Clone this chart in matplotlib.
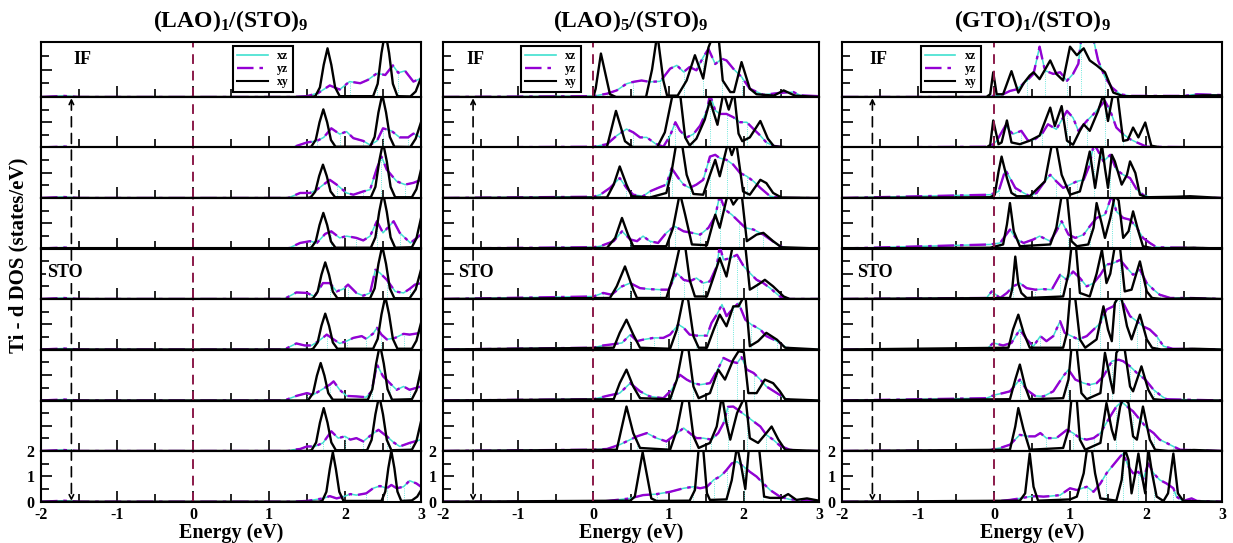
import numpy as np
import matplotlib
matplotlib.use("Agg")
import matplotlib.pyplot as plt
from matplotlib.lines import Line2D
from matplotlib.patches import ConnectionPatch
from matplotlib.ticker import MultipleLocator, NullFormatter

plt.rcParams['font.family'] = ['Liberation Serif', 'DejaVu Serif']
plt.rcParams['font.weight'] = 'bold'
plt.rcParams['mathtext.fontset'] = 'custom'
plt.rcParams['mathtext.rm'] = 'Liberation Serif:bold'
plt.rcParams['mathtext.it'] = 'Liberation Serif:bold'
plt.rcParams['mathtext.bf'] = 'Liberation Serif:bold'

# ---- data: (energy eV, DOS) vertices, rows top (IF) -> bottom
# xz and yz lie on top of each other in the picture, so one t2g list per row
titles = [r'(LAO)$_{1}$/(STO)$_{9}$', r'(LAO)$_{5}$/(STO)$_{9}$', r'(GTO)$_{1}$/(STO)$_{9}$']

lao1_xy = [
    [(-2, 0), (1.55, 0), (1.61, 0.03), (1.67, 0.35), (1.72, 1.17), (1.77, 1.77), (1.82, 1.17), (1.87, 0.35), (1.93, 0.03), (2.37, 0.03), (2.43, 0.48), (2.48, 1.6), (2.53, 2.4), (2.58, 1.6), (2.63, 0.48), (2.69, 0.03), (2.86, 0.02), (2.93, 0.2), (3.0, 0.7)],
    [(-2, 0), (1.5, 0), (1.555, 0.03), (1.615, 0.3), (1.665, 1.0), (1.715, 1.51), (1.765, 1.0), (1.815, 0.3), (1.875, 0.03), (2.33, 0.03), (2.39, 0.42), (2.44, 1.39), (2.49, 2.1), (2.54, 1.39), (2.59, 0.42), (2.65, 0.03), (2.86, 0.02), (2.93, 0.35), (3.0, 1.0)],
    [(-2, 0), (1.5, 0), (1.55, 0.03), (1.61, 0.26), (1.66, 0.87), (1.71, 1.32), (1.76, 0.87), (1.81, 0.26), (1.87, 0.03), (2.34, 0.03), (2.4, 0.44), (2.45, 1.45), (2.5, 2.2), (2.55, 1.45), (2.6, 0.44), (2.66, 0.03), (2.88, 0.03), (2.94, 0.35), (3.0, 1.12)],
    [(-2, 0), (1.5, 0), (1.555, 0.03), (1.615, 0.28), (1.665, 0.93), (1.715, 1.41), (1.765, 0.93), (1.815, 0.28), (1.875, 0.03), (2.34, 0.03), (2.4, 0.44), (2.45, 1.45), (2.5, 2.2), (2.55, 1.45), (2.6, 0.44), (2.66, 0.03), (2.88, 0.05), (2.94, 0.4), (3.0, 1.2)],
    [(-2, 0), (1.55, 0), (1.58, 0.03), (1.64, 0.29), (1.69, 0.96), (1.74, 1.45), (1.79, 0.96), (1.84, 0.29), (1.9, 0.03), (2.33, 0.03), (2.39, 0.42), (2.44, 1.39), (2.49, 2.1), (2.54, 1.39), (2.59, 0.42), (2.65, 0.03), (2.85, 0.03), (2.93, 0.38), (3.0, 1.16)],
    [(-2, 0), (1.55, 0), (1.58, 0.03), (1.64, 0.28), (1.69, 0.94), (1.74, 1.42), (1.79, 0.94), (1.84, 0.28), (1.9, 0.03), (2.37, 0.03), (2.43, 0.42), (2.48, 1.39), (2.53, 2.1), (2.58, 1.39), (2.63, 0.42), (2.69, 0.03), (2.88, 0.03), (2.94, 0.35), (3.0, 1.05)],
    [(-2, 0), (1.5, 0), (1.52, 0.03), (1.58, 0.29), (1.63, 0.97), (1.68, 1.47), (1.73, 0.97), (1.78, 0.29), (1.84, 0.03), (2.3, 0.03), (2.36, 0.44), (2.41, 1.45), (2.46, 2.2), (2.51, 1.45), (2.56, 0.44), (2.62, 0.03), (2.88, 0.05), (2.94, 0.4), (3.0, 1.21)],
    [(-2, 0), (1.5, 0), (1.56, 0.03), (1.62, 0.34), (1.67, 1.12), (1.72, 1.7), (1.77, 1.12), (1.82, 0.34), (1.88, 0.03), (2.29, 0.03), (2.35, 0.44), (2.4, 1.45), (2.45, 2.2), (2.5, 1.45), (2.55, 0.44), (2.61, 0.03), (2.88, 0.05), (2.94, 0.39), (3.0, 1.17)],
    [(-2, 0), (1.65, 0), (1.7, 0.03), (1.755, 0.39), (1.8, 1.29), (1.84, 1.95), (1.88, 1.29), (1.925, 0.39), (1.98, 0.03), (2.48, 0.03), (2.53, 0.4), (2.57, 1.32), (2.61, 2.0), (2.65, 1.32), (2.69, 0.4), (2.74, 0.03), (2.88, 0.05), (2.95, 0.2), (3.0, 0.45)],
]
lao1_t2g = [
    [(-2, 0), (-1.7, 0.04), (-1.5, 0), (1.3, 0), (1.5, 0.03), (1.65, 0.15), (1.8, 0.42), (1.93, 0.27), (2.06, 0.56), (2.2, 0.5), (2.3, 0.62), (2.42, 0.86), (2.53, 0.8), (2.63, 1.15), (2.7, 0.88), (2.79, 0.95), (2.9, 0.56), (3.0, 0.68)],
    [(-2, 0), (-1.7, 0.04), (-1.5, 0), (1.3, 0), (1.5, 0.2), (1.63, 0.26), (1.72, 0.4), (1.82, 0.76), (1.93, 0.53), (2.02, 0.63), (2.11, 0.37), (2.24, 0.26), (2.33, 0.1), (2.42, 0.26), (2.5, 0.76), (2.61, 0.66), (2.72, 0.4), (2.83, 0.4), (2.9, 0.55), (3.0, 0.4)],
    [(-2, 0), (-1.7, 0.04), (-1.5, 0), (1.25, 0), (1.41, 0.2), (1.54, 0.2), (1.63, 0.33), (1.8, 0.72), (1.89, 0.53), (2.02, 0.2), (2.11, 0.13), (2.24, 0.26), (2.33, 0.33), (2.42, 1.18), (2.48, 1.64), (2.55, 1.12), (2.68, 0.66), (2.79, 0.53), (2.9, 0.6), (3.0, 0.72)],
    [(-2, 0), (-1.7, 0.04), (-1.5, 0), (1.25, 0), (1.41, 0.22), (1.54, 0.29), (1.63, 0.22), (1.74, 0.58), (1.82, 0.68), (1.93, 0.42), (2.02, 0.49), (2.15, 0.42), (2.24, 0.32), (2.33, 0.49), (2.42, 1.08), (2.5, 0.62), (2.64, 1.08), (2.72, 0.62), (2.86, 0.22), (3.0, 0.55)],
    [(-2, 0), (-1.7, 0.04), (-1.5, 0), (1.2, 0), (1.36, 0.26), (1.5, 0.24), (1.6, 0.1), (1.71, 0.63), (1.8, 0.63), (1.89, 0.3), (1.98, 0.4), (2.04, 0.57), (2.15, 0.24), (2.24, 0.13), (2.33, 0.24), (2.4, 1.16), (2.46, 1.03), (2.55, 0.76), (2.66, 0.3), (2.77, 0.24), (2.85, 0.4), (2.92, 0.57), (3.0, 0.63)],
    [(-2, 0), (-1.7, 0.04), (-1.5, 0), (1.2, 0), (1.36, 0.24), (1.47, 0.16), (1.56, 0.16), (1.65, 0.33), (1.76, 0.59), (1.85, 0.4), (1.93, 0.24), (2.02, 0.33), (2.11, 0.46), (2.22, 0.53), (2.28, 0.42), (2.37, 0.63), (2.42, 0.86), (2.48, 0.59), (2.55, 0.4), (2.66, 0.46), (2.77, 0.62), (2.85, 0.59), (3.0, 0.66)],
    [(-2, 0), (-1.7, 0.04), (-1.5, 0), (1.2, 0), (1.36, 0.18), (1.5, 0.29), (1.58, 0.22), (1.69, 0.42), (1.8, 0.62), (1.85, 0.75), (1.93, 0.42), (2.02, 0.18), (2.15, 0.16), (2.28, 0.13), (2.35, 0.36), (2.42, 1.41), (2.5, 0.95), (2.59, 0.68), (2.68, 0.42), (2.77, 0.55), (2.85, 0.42), (3.0, 0.55)],
    [(-2, 0), (-1.7, 0.04), (-1.5, 0), (1.25, 0), (1.32, 0.05), (1.41, 0.08), (1.5, 0.18), (1.6, 0.18), (1.71, 0.32), (1.82, 0.78), (1.91, 0.51), (2.0, 0.58), (2.07, 0.45), (2.15, 0.51), (2.24, 0.38), (2.35, 0.65), (2.44, 0.84), (2.55, 0.58), (2.64, 0.34), (2.72, 0.18), (2.85, 0.32), (3.0, 0.45)],
    [(-2, 0), (-1.7, 0.04), (-1.5, 0), (1.3, 0), (1.5, 0.03), (1.71, 0.13), (1.8, 0.22), (1.89, 0.13), (1.98, 0.2), (2.07, 0.3), (2.15, 0.26), (2.28, 0.33), (2.37, 0.53), (2.46, 0.62), (2.55, 0.53), (2.61, 0.66), (2.68, 0.53), (2.77, 0.59), (2.85, 0.83), (2.94, 0.72), (3.0, 0.59)],
]

lao5_xy = [
    [(-2, 0), (0, 0), (0.03, 0.3), (0.1, 1.58), (0.22, 0.1), (0.3, 0), (0.7, 0), (0.78, 1.0), (0.85, 2.3), (0.93, 0.6), (0.98, 0.05), (1.12, 0.05), (1.24, 0.6), (1.35, 1.52), (1.46, 0.67), (1.53, 1.8), (1.6, 2.3), (1.66, 2.3), (1.72, 0.6), (1.82, 0.18), (1.87, 0.18), (1.97, 1.27), (2.08, 0.3), (2.17, 0.1), (2.4, 0.05), (2.53, 0.24), (2.68, 0.05), (3.0, 0.0)],
    [(-2, 0), (0, 0), (0.18, 0.02), (0.3, 1.45), (0.42, 0.25), (0.52, 0.02), (0.85, 0.02), (0.95, 0.6), (1.06, 2.2), (1.15, 2.2), (1.22, 0.4), (1.28, 0.08), (1.37, 0.35), (1.48, 1.1), (1.55, 1.85), (1.65, 0.9), (1.73, 2.2), (1.8, 1.5), (1.87, 2.2), (1.93, 0.55), (1.98, 0.25), (2.08, 0.4), (2.22, 1.05), (2.32, 0.35), (2.4, 0.05), (2.6, 0.0), (3.0, 0)],
    [(-2, 0), (0.18, 0.02), (0.27, 0.53), (0.35, 1.25), (0.44, 0.53), (0.51, 0.07), (0.75, 0.02), (0.97, 0.2), (1.04, 1.05), (1.11, 2.3), (1.17, 2.3), (1.24, 0.92), (1.33, 0.16), (1.46, 0.13), (1.55, 0.92), (1.62, 1.51), (1.68, 0.86), (1.79, 2.2), (1.84, 1.7), (1.9, 2.2), (1.99, 0.26), (2.08, 0.13), (2.22, 0.72), (2.3, 0.59), (2.39, 0.2), (2.5, 0.02), (3.0, 0)],
    [(-2, 0), (0.18, 0.02), (0.29, 0.42), (0.38, 1.21), (0.46, 0.55), (0.53, 0.09), (0.97, 0.09), (1.06, 0.82), (1.15, 2.2), (1.22, 1.34), (1.31, 0.16), (1.51, 0.13), (1.62, 1.34), (1.68, 0.82), (1.79, 2.2), (1.86, 1.74), (1.97, 2.2), (2.04, 0.29), (2.17, 0.55), (2.26, 0.62), (2.39, 0.29), (2.5, 0.05), (3.0, 0)],
    [(-2, 0), (0.22, 0.04), (0.31, 0.5), (0.42, 1.29), (0.53, 0.37), (0.58, 0.04), (0.97, 0.04), (1.06, 0.89), (1.15, 2.1), (1.22, 2.1), (1.28, 0.76), (1.35, 0.1), (1.51, 0.1), (1.6, 0.89), (1.68, 1.62), (1.77, 0.89), (1.86, 2.2), (1.95, 2.1), (2.02, 2.1), (2.08, 0.37), (2.19, 0.57), (2.28, 0.76), (2.39, 0.5), (2.53, 0.1), (2.61, 0), (3.0, 0)],
    [(-2, 0), (0.27, 0.07), (0.35, 0.66), (0.44, 1.18), (0.53, 0.59), (0.62, 0.07), (1.02, 0.03), (1.11, 0.79), (1.2, 2.1), (1.26, 1.97), (1.33, 0.53), (1.4, 0.07), (1.51, 0.07), (1.6, 0.79), (1.68, 1.38), (1.77, 0.92), (1.86, 1.71), (1.93, 1.71), (2.02, 2.2), (2.08, 0.13), (2.19, 0.33), (2.3, 0.66), (2.44, 0.39), (2.55, 0.07), (3.0, 0)],
    [(-2, 0), (0.27, 0.05), (0.35, 0.68), (0.44, 1.21), (0.53, 0.55), (0.62, 0.09), (1.02, 0.05), (1.11, 0.82), (1.2, 2.2), (1.26, 2.1), (1.33, 0.55), (1.4, 0.09), (1.55, 0.29), (1.66, 1.21), (1.75, 0.82), (1.86, 1.6), (1.93, 1.93), (2.0, 1.9), (2.06, 0.29), (2.17, 0.29), (2.28, 0.82), (2.39, 0.68), (2.48, 0.36), (2.55, 0.05), (3.0, 0)],
    [(-2, 0), (0.31, 0.05), (0.38, 0.97), (0.44, 1.76), (0.53, 0.71), (0.62, 0.12), (1.02, 0.05), (1.11, 0.84), (1.2, 2.2), (1.26, 2.2), (1.33, 0.58), (1.4, 0.12), (1.55, 0.32), (1.64, 0.97), (1.71, 2.2), (1.77, 1.1), (1.82, 0.45), (1.91, 1.5), (2.02, 2.2), (2.08, 0.51), (2.19, 0.32), (2.3, 0.71), (2.37, 0.97), (2.46, 0.45), (2.55, 0.05), (3.0, 0)],
    [(-2, 0), (0.49, 0.04), (0.55, 0.2), (0.655, 1.95), (0.77, 0.13), (0.84, 0.03), (1.28, 0.04), (1.35, 0.46), (1.4, 2.1), (1.46, 2.1), (1.51, 0.33), (1.55, 0.07), (1.77, 0.09), (1.84, 0.85), (1.91, 2.2), (1.96, 1.5), (2.02, 0.5), (2.07, 2.2), (2.2, 2.2), (2.27, 0.2), (2.35, 0.15), (2.5, 0.15), (2.59, 0.3), (2.7, 0.07), (2.84, 0.13), (3.0, 0.04)],
]
lao5_t2g = [
    [(-2, 0), (0, 0.03), (0.18, 0.12), (0.31, 0.24), (0.44, 0.48), (0.53, 0.55), (0.64, 0.6), (0.75, 0.55), (0.89, 0.57), (1.02, 1.03), (1.11, 1.15), (1.2, 0.91), (1.28, 1.09), (1.37, 0.97), (1.46, 1.45), (1.53, 1.75), (1.62, 1.2), (1.71, 1.39), (1.77, 1.33), (1.86, 1.03), (1.97, 0.73), (2.08, 0.3), (2.26, 0.08), (2.48, 0.15), (2.66, 0.18), (2.75, 0.06), (3.0, 0.03)],
    [(-2, 0), (0, 0.03), (0.18, 0.13), (0.31, 0.47), (0.44, 0.73), (0.53, 0.6), (0.62, 0.4), (0.71, 0.4), (0.82, 0.16), (0.93, 0.03), (1.02, 0.47), (1.09, 1.0), (1.15, 0.67), (1.24, 0.4), (1.33, 0.53), (1.42, 0.87), (1.51, 1.47), (1.55, 2.1), (1.62, 1.47), (1.68, 1.33), (1.77, 1.33), (1.86, 1.2), (1.95, 1.0), (2.04, 1.0), (2.13, 0.73), (2.22, 0.47), (2.3, 0.2), (2.39, 0.07), (2.53, 0), (3.0, 0)],
    [(-2, 0), (0, 0.05), (0.09, 0.13), (0.22, 0.4), (0.35, 0.79), (0.44, 0.4), (0.53, 0.13), (0.66, 0.07), (0.75, 0.26), (0.86, 0.4), (0.97, 0.53), (1.04, 1.18), (1.13, 0.79), (1.2, 0.53), (1.28, 0.4), (1.37, 0.53), (1.46, 0.72), (1.55, 1.64), (1.62, 1.71), (1.68, 1.58), (1.77, 1.51), (1.86, 1.32), (1.95, 0.99), (2.04, 0.86), (2.13, 0.66), (2.22, 0.4), (2.35, 0.07), (2.5, 0), (3.0, 0)],
    [(-2, 0), (0, 0.05), (0.09, 0.09), (0.27, 0.29), (0.38, 0.68), (0.49, 0.36), (0.58, 0.29), (0.66, 0.49), (0.75, 0.29), (0.86, 0.22), (0.97, 0.62), (1.08, 0.88), (1.2, 0.68), (1.31, 0.62), (1.42, 0.55), (1.53, 0.82), (1.62, 1.28), (1.68, 2.1), (1.75, 1.54), (1.84, 1.34), (1.93, 1.08), (2.02, 0.82), (2.13, 0.75), (2.26, 0.55), (2.35, 0.36), (2.48, 0.09), (2.6, 0), (3.0, 0)],
    [(-2, 0), (0, 0.1), (0.13, 0.24), (0.24, 0.17), (0.38, 0.5), (0.49, 0.63), (0.62, 0.43), (0.75, 0.39), (0.89, 0.37), (1.0, 0.37), (1.11, 1.03), (1.2, 0.76), (1.28, 0.7), (1.37, 0.83), (1.46, 0.63), (1.55, 0.7), (1.64, 1.29), (1.68, 2.1), (1.73, 1.55), (1.82, 1.62), (1.91, 1.75), (2.0, 1.29), (2.08, 1.03), (2.17, 0.76), (2.26, 0.63), (2.35, 0.43), (2.48, 0.1), (2.6, 0), (3.0, 0)],
    [(-2, 0), (0, 0.07), (0.13, 0.16), (0.24, 0.2), (0.38, 0.26), (0.49, 0.59), (0.58, 0.33), (0.66, 0.39), (0.8, 0.46), (0.93, 0.46), (1.02, 0.59), (1.13, 0.99), (1.2, 0.86), (1.28, 0.59), (1.37, 0.55), (1.51, 0.55), (1.57, 1.05), (1.64, 1.38), (1.71, 1.78), (1.77, 1.32), (1.86, 1.64), (1.93, 1.84), (2.02, 1.18), (2.1, 0.99), (2.22, 0.79), (2.3, 0.53), (2.44, 0.33), (2.57, 0.07), (2.7, 0), (3.0, 0)],
    [(-2, 0), (0, 0.05), (0.18, 0.18), (0.35, 0.29), (0.49, 0.68), (0.62, 0.36), (0.75, 0.16), (0.93, 0.09), (1.04, 0.42), (1.15, 1.01), (1.24, 0.82), (1.33, 0.68), (1.42, 0.62), (1.55, 0.68), (1.64, 1.14), (1.73, 1.67), (1.82, 1.54), (1.91, 1.47), (1.97, 1.7), (2.04, 1.21), (2.13, 1.08), (2.22, 0.82), (2.3, 0.55), (2.44, 0.29), (2.57, 0.05), (2.7, 0), (3.0, 0)],
    [(-2, 0), (0, 0.05), (0.18, 0.08), (0.35, 0.25), (0.49, 0.45), (0.58, 0.58), (0.71, 0.71), (0.84, 0.51), (0.97, 0.38), (1.06, 0.58), (1.2, 0.91), (1.28, 0.71), (1.37, 0.51), (1.46, 0.51), (1.57, 0.45), (1.66, 0.71), (1.73, 1.1), (1.79, 1.75), (1.86, 1.76), (1.95, 1.57), (2.04, 1.37), (2.13, 1.17), (2.22, 0.97), (2.3, 0.64), (2.39, 0.45), (2.48, 0.21), (2.61, 0.05), (2.75, 0), (3.0, 0)],
    [(-2, 0), (0.1, 0.0), (0.31, 0.07), (0.49, 0.13), (0.66, 0.26), (0.84, 0.3), (1.02, 0.39), (1.2, 0.53), (1.33, 0.59), (1.42, 0.53), (1.51, 0.59), (1.6, 0.86), (1.68, 0.99), (1.73, 1.12), (1.77, 1.25), (1.84, 1.51), (1.91, 1.58), (2.0, 1.38), (2.08, 1.18), (2.17, 0.99), (2.26, 0.72), (2.35, 0.46), (2.48, 0.2), (2.61, 0.09), (2.79, 0.07), (3.0, 0.02)],
]

gto1_xy = [
    [(-2, 0), (-0.1, 0), (-0.05, 0.1), (-0.01, 0.9), (0.035, 0.1), (0.12, 0.1), (0.23, 0.94), (0.32, 0.16), (0.39, 0.5), (0.47, 0.78), (0.52, 0.9), (0.6, 0.65), (0.74, 1.33), (0.82, 0.84), (0.91, 0.6), (1.0, 1.83), (1.09, 1.52), (1.18, 1.77), (1.26, 1.33), (1.35, 1.15), (1.46, 0.9), (1.57, 0.16), (1.7, 0.03), (2.58, 0.03), (2.75, 0.06), (3.0, 0.06)],
    [(-2, 0), (-0.1, 0), (-0.05, 0.1), (-0.01, 1.07), (0.06, 0.13), (0.1, 0.2), (0.17, 1.07), (0.23, 0.2), (0.34, 0.13), (0.47, 0.27), (0.6, 0.47), (0.74, 1.58), (0.8, 0.85), (0.89, 1.64), (0.96, 0.27), (1.04, 0.11), (1.13, 0.66), (1.18, 0.92), (1.26, 0.66), (1.37, 1.45), (1.44, 2.1), (1.5, 1.05), (1.57, 2.2), (1.62, 2.2), (1.7, 0.26), (1.76, 0.3), (1.83, 0.79), (1.9, 0.4), (1.99, 0.99), (2.07, 0.07), (2.2, 0.0), (3.0, 0)],
    [(-2, 0), (-0.05, 0.03), (0.01, 0.13), (0.06, 1.05), (0.1, 1.64), (0.17, 0.79), (0.23, 0.2), (0.3, 0.07), (0.47, 0.07), (0.67, 0.66), (0.76, 2.1), (0.82, 2.1), (0.89, 0.92), (1.0, 0.13), (1.13, 0.26), (1.2, 1.05), (1.26, 1.84), (1.33, 0.4), (1.37, 1.18), (1.42, 2.1), (1.46, 1.18), (1.5, 0.4), (1.55, 1.71), (1.59, 1.45), (1.68, 0.53), (1.75, 0.92), (1.79, 1.45), (1.86, 0.99), (1.92, 0.13), (2.01, 0.03), (2.4, 0.05), (2.58, 0.07), (3.0, 0)],
    [(-2, 0), (-0.05, 0.03), (0.12, 0.16), (0.17, 0.95), (0.21, 1.8), (0.26, 0.68), (0.34, 0.09), (0.74, 0.16), (0.82, 0.82), (0.89, 2.1), (0.96, 2.1), (1.02, 0.29), (1.09, 0.09), (1.24, 0.16), (1.31, 0.82), (1.35, 1.8), (1.42, 0.95), (1.46, 0.42), (1.53, 1.21), (1.59, 2.1), (1.64, 1.9), (1.7, 0.42), (1.77, 0.68), (1.83, 1.47), (1.9, 0.68), (1.96, 0.09), (2.1, 0.0), (2.6, 0.03), (3.0, 0)],
    [(-2, 0), (0.21, 0.04), (0.24, 0.4), (0.28, 1.68), (0.32, 0.6), (0.36, 0.24), (0.43, 0.04), (0.91, 0.1), (0.98, 1.0), (1.02, 2.1), (1.08, 2.0), (1.13, 0.24), (1.26, 0.1), (1.35, 1.0), (1.42, 1.95), (1.48, 0.63), (1.53, 1.0), (1.59, 2.1), (1.66, 2.0), (1.72, 0.3), (1.81, 0.37), (1.92, 1.49), (2.01, 0.3), (2.08, 0.04), (2.2, 0.0), (2.63, 0.03), (3.0, 0)],
    [(-2, 0), (0.19, 0.07), (0.25, 0.79), (0.32, 1.38), (0.39, 0.66), (0.47, 0.07), (0.91, 0.07), (0.96, 0.66), (1.0, 2.1), (1.07, 2.0), (1.13, 0.4), (1.2, 0.07), (1.35, 0.4), (1.44, 1.71), (1.5, 0.79), (1.55, 0.33), (1.59, 1.84), (1.64, 2.1), (1.68, 2.0), (1.75, 0.92), (1.81, 0.4), (1.92, 1.38), (2.01, 0.4), (2.08, 0.07), (2.2, 0), (2.63, 0.03), (3.0, 0)],
    [(-2, 0), (0.21, 0.05), (0.28, 0.82), (0.34, 1.41), (0.41, 0.55), (0.47, 0.05), (0.91, 0.09), (0.98, 0.82), (1.02, 2.1), (1.09, 2.0), (1.15, 0.29), (1.22, 0.05), (1.4, 0.29), (1.46, 1.87), (1.53, 0.82), (1.57, 0.29), (1.61, 1.87), (1.66, 2.1), (1.72, 2.0), (1.79, 0.55), (1.83, 0.36), (1.94, 1.34), (2.03, 0.42), (2.1, 0.05), (2.3, 0), (3.0, 0)],
    [(-2, 0), (0.21, 0.05), (0.28, 0.97), (0.32, 1.7), (0.39, 0.84), (0.47, 0.05), (0.91, 0.12), (0.98, 0.84), (1.02, 2.1), (1.09, 2.0), (1.13, 0.45), (1.2, 0.05), (1.4, 0.32), (1.48, 1.9), (1.55, 0.84), (1.59, 0.45), (1.66, 1.76), (1.7, 2.1), (1.77, 1.9), (1.83, 0.58), (1.88, 0.45), (1.96, 1.76), (2.05, 0.45), (2.12, 0.05), (2.3, 0), (2.63, 0.04), (3.0, 0)],
    [(-2, 0), (0.34, 0.04), (0.41, 0.33), (0.47, 1.9), (0.52, 0.59), (0.58, 0.04), (1.0, 0.09), (1.09, 0.2), (1.18, 1.12), (1.22, 2.0), (1.29, 2.0), (1.33, 1.12), (1.4, 0.13), (1.61, 0.04), (1.68, 0.86), (1.72, 2.1), (1.77, 1.65), (1.81, 0.33), (1.86, 1.12), (1.9, 1.9), (1.94, 1.12), (1.99, 0.33), (2.03, 2.1), (2.08, 1.12), (2.14, 0.2), (2.23, 0.03), (2.29, 0.33), (2.36, 1.9), (2.42, 0.33), (2.49, 0.03), (3.0, 0)],
]
gto1_t2g = [
    [(-2, 0), (-0.1, 0), (0.12, 0.1), (0.21, 0.22), (0.3, 0.28), (0.43, 0.59), (0.52, 0.84), (0.6, 1.83), (0.67, 0.96), (0.78, 0.84), (0.87, 0.9), (0.96, 0.59), (1.04, 0.84), (1.11, 1.21), (1.15, 2.2), (1.3, 2.2), (1.37, 1.33), (1.46, 0.72), (1.55, 0.35), (1.66, 0.1), (1.79, 0.04), (2.49, 0.04), (2.67, 0.1), (3.0, 0.07)],
    [(-2, 0), (-0.05, 0.03), (0.035, 0.26), (0.15, 0.86), (0.25, 0.53), (0.36, 0.66), (0.45, 0.26), (0.54, 0.33), (0.63, 0.53), (0.71, 0.92), (0.82, 0.72), (0.96, 1.45), (1.04, 1.18), (1.11, 0.66), (1.22, 1.05), (1.31, 1.32), (1.4, 1.64), (1.46, 1.84), (1.53, 1.45), (1.61, 0.79), (1.7, 0.53), (1.79, 0.33), (1.88, 0.2), (2.01, 0.03), (3.0, 0)],
    [(-2, 0), (-0.05, 0.13), (0.06, 0.26), (0.15, 1.12), (0.21, 0.79), (0.28, 0.4), (0.39, 0.2), (0.47, 0.07), (0.56, 0.2), (0.67, 0.66), (0.74, 0.92), (0.82, 0.66), (0.91, 0.4), (1.0, 0.53), (1.09, 0.66), (1.18, 0.72), (1.26, 1.32), (1.31, 2.1), (1.35, 1.97), (1.44, 1.45), (1.53, 1.71), (1.61, 1.12), (1.7, 0.92), (1.79, 0.79), (1.88, 0.33), (1.96, 0.13), (2.05, 0.03), (3.0, 0)],
    [(-2, 0), (-0.05, 0.16), (0.08, 0.22), (0.21, 0.75), (0.3, 0.36), (0.39, 0.22), (0.52, 0.36), (0.6, 0.49), (0.74, 0.29), (0.82, 0.68), (0.89, 1.08), (0.98, 0.55), (1.07, 0.42), (1.18, 0.55), (1.26, 0.88), (1.35, 1.21), (1.46, 1.34), (1.55, 2.1), (1.61, 1.47), (1.7, 1.21), (1.79, 1.14), (1.88, 0.82), (1.96, 0.42), (2.05, 0.22), (2.14, 0.05), (3.0, 0)],
    [(-2, 0), (-0.1, 0.04), (-0.03, 0.3), (0.08, 0.04), (0.17, 0.24), (0.25, 0.5), (0.34, 0.63), (0.43, 0.43), (0.54, 0.37), (0.65, 0.39), (0.76, 0.37), (0.87, 0.96), (0.96, 0.76), (1.04, 1.09), (1.13, 0.83), (1.22, 0.5), (1.31, 0.63), (1.4, 0.96), (1.48, 1.36), (1.57, 1.42), (1.66, 1.55), (1.75, 1.22), (1.83, 0.96), (1.92, 1.16), (2.01, 0.63), (2.1, 0.37), (2.18, 0.17), (2.32, 0.04), (2.58, 0.04), (3.0, 0)],
    [(-2, 0), (-0.1, 0.0), (-0.01, 0.26), (0.12, 0.16), (0.23, 0.26), (0.34, 0.79), (0.43, 0.4), (0.52, 0.13), (0.61, 0.53), (0.69, 0.33), (0.78, 0.53), (0.87, 1.12), (0.93, 0.66), (1.02, 0.53), (1.11, 0.4), (1.22, 0.53), (1.31, 0.79), (1.4, 1.05), (1.48, 1.58), (1.57, 1.71), (1.64, 2.05), (1.7, 1.84), (1.79, 1.32), (1.88, 1.12), (1.96, 0.92), (2.05, 0.79), (2.14, 0.53), (2.23, 0.13), (2.35, 0.03), (3.0, 0)],
    [(-2, 0), (-0.1, 0.09), (0.01, 0.22), (0.12, 0.29), (0.21, 0.36), (0.34, 0.82), (0.43, 0.42), (0.54, 0.18), (0.65, 0.16), (0.78, 0.36), (0.91, 0.95), (0.98, 1.21), (1.07, 0.82), (1.18, 0.68), (1.26, 0.62), (1.35, 0.68), (1.44, 0.95), (1.55, 1.54), (1.64, 1.6), (1.7, 1.54), (1.79, 1.34), (1.88, 1.08), (1.99, 0.82), (2.1, 0.42), (2.21, 0.16), (2.27, 0.05), (3.0, 0)],
    [(-2, 0), (-0.1, 0.03), (0.08, 0.12), (0.21, 0.25), (0.34, 0.64), (0.45, 0.58), (0.54, 0.58), (0.61, 0.71), (0.69, 0.51), (0.82, 0.51), (0.96, 0.84), (1.04, 0.71), (1.13, 0.51), (1.22, 0.45), (1.31, 0.51), (1.4, 0.71), (1.53, 1.37), (1.61, 1.76), (1.68, 1.95), (1.75, 1.76), (1.83, 1.57), (1.92, 1.24), (2.01, 0.91), (2.1, 0.71), (2.18, 0.45), (2.27, 0.32), (2.36, 0.18), (2.45, 0.05), (3.0, 0)],
    [(-2, 0), (-0.01, 0.0), (0.21, 0.07), (0.34, 0.13), (0.47, 0.2), (0.56, 0.22), (0.65, 0.2), (0.74, 0.22), (0.87, 0.26), (1.0, 0.53), (1.09, 0.46), (1.22, 0.59), (1.31, 0.39), (1.4, 0.72), (1.48, 1.12), (1.57, 1.45), (1.66, 1.78), (1.7, 1.9), (1.77, 1.38), (1.83, 1.12), (1.9, 1.18), (1.96, 0.86), (2.03, 1.51), (2.1, 1.12), (2.18, 0.86), (2.27, 0.72), (2.36, 0.53), (2.4, 0.2), (2.49, 0.03), (2.6, 0.13), (2.67, 0.03), (3.0, 0)],
]

panels = [(lao1_xy, lao1_t2g), (lao5_xy, lao5_t2g), (gto1_xy, gto1_t2g)]

# ---- layout in pixels
W, H = 1233, 543
panel_x = [(41, 421), (443, 819), (842, 1222)]
row_y = [42, 97, 147.5, 198, 248.5, 299, 349.5, 400.5, 451, 501.7]
legend_x = [0.505, 0.207, 0.207]
label_x = [-1.57, -1.69, -1.64]
sto_x = [-1.92, -1.8, -1.8]

c_xz = '#40E0D0'
c_yz = '#9400D3'
c_fermi = '#8B1A4A'

fig = plt.figure(figsize=(W / 100, H / 100), dpi=100)

for p, (xy_rows, t2g_rows) in enumerate(panels):
    x0, x1 = panel_x[p]
    axes = []
    for r in range(9):
        y0, y1 = row_y[r], row_y[r + 1]
        ax = fig.add_axes([x0 / W, 1 - y1 / H, (x1 - x0) / W, (y1 - y0) / H])
        ax.set_facecolor('none')
        axes.append(ax)

        e_t, v_t = np.array(t2g_rows[r]).T
        e_x, v_x = np.array(xy_rows[r]).T
        ax.vlines(e_t[2::3], 0, v_t[2::3], colors=c_xz, lw=0.6, linestyles=':')
        ax.plot(e_t, v_t, color=c_xz, lw=1.1)
        ax.plot(e_t, v_t, color=c_yz, lw=1.7, dashes=(7, 2.5, 1.5, 2.5))
        ax.plot(e_x, v_x, color='k', lw=1.7)
        ax.axvline(0, color=c_fermi, lw=1.4, dashes=(5, 3.5))

        ax.set_xlim(-2, 3)
        ax.set_ylim(0, 2)
        ax.xaxis.set_major_locator(MultipleLocator(1))
        ax.xaxis.set_minor_locator(MultipleLocator(0.5))
        ax.yaxis.set_major_locator(MultipleLocator(1))
        ax.yaxis.set_minor_locator(MultipleLocator(0.5))
        ax.tick_params(which='both', direction='in', top=False, right=False, width=1.2)
        ax.tick_params(which='major', length=8)
        ax.tick_params(which='minor', length=6)
        for s in ax.spines.values():
            s.set_linewidth(1.5)
        if r < 8:
            ax.xaxis.set_major_formatter(NullFormatter())
            ax.yaxis.set_major_formatter(NullFormatter())
        else:
            ax.tick_params(axis='x', labelsize=11.5, pad=3.5)
            ax.tick_params(axis='y', labelsize=11.5, pad=4.5)
            ax.set_xticks([-2, -1, 0, 1, 2, 3])
            ax.set_xticklabels(['-2', '-1', '0', '1', '2', '3'], fontweight='bold')
            ax.set_yticks([0, 1, 2])
            ax.set_yticklabels(['0', '1', '2'], fontweight='bold')

    top = axes[0]
    top.text(label_x[p], 1.35, 'IF', fontsize=13, fontweight='bold', va='center')
    handles = [Line2D([], [], color=c_xz, lw=1.2),
               Line2D([], [], color=c_yz, lw=1.7, dashes=(7, 2.5, 1.5, 2.5)),
               Line2D([], [], color='k', lw=1.5)]
    leg = top.legend(handles, ['xz', 'yz', 'xy'], loc='upper left',
                     bbox_to_anchor=(legend_x[p], 0.93), fontsize=8.5,
                     frameon=True, fancybox=False, edgecolor='k', framealpha=1,
                     handlelength=2.6, handletextpad=0.8, labelspacing=0.1,
                     borderpad=0.35, borderaxespad=0)
    leg.get_frame().set_linewidth(1.5)
    for t in leg.get_texts():
        t.set_fontweight('bold')

    axes[4].text(sto_x[p], 1.03, 'STO', fontsize=13, fontweight='bold', va='center',
                 zorder=10, bbox=dict(facecolor='white', edgecolor='none', pad=1))

    arrow = ConnectionPatch(xyA=(-1.6, 1.95), coordsA=axes[1].transData,
                            xyB=(-1.6, 0.03), coordsB=axes[8].transData,
                            arrowstyle='<->', linestyle=(0, (6, 4)), lw=1.2,
                            color='k', mutation_scale=8, zorder=-1)
    fig.add_artist(arrow)

    xc = (x0 + x1) / 2 / W
    fig.text(xc, 1 - 21 / H, titles[p], fontsize=17, fontweight='bold',
             ha='center', va='center')
    fig.text(xc, 1 - 533 / H, 'Energy (eV)', fontsize=14.5, fontweight='bold',
             ha='center', va='center')

fig.text(18 / W, 1 - 255 / H, 'Ti - d DOS (states/eV)', rotation=90,
         fontsize=15, fontweight='bold', ha='center', va='center')

fig.savefig('out.png', dpi=100)
